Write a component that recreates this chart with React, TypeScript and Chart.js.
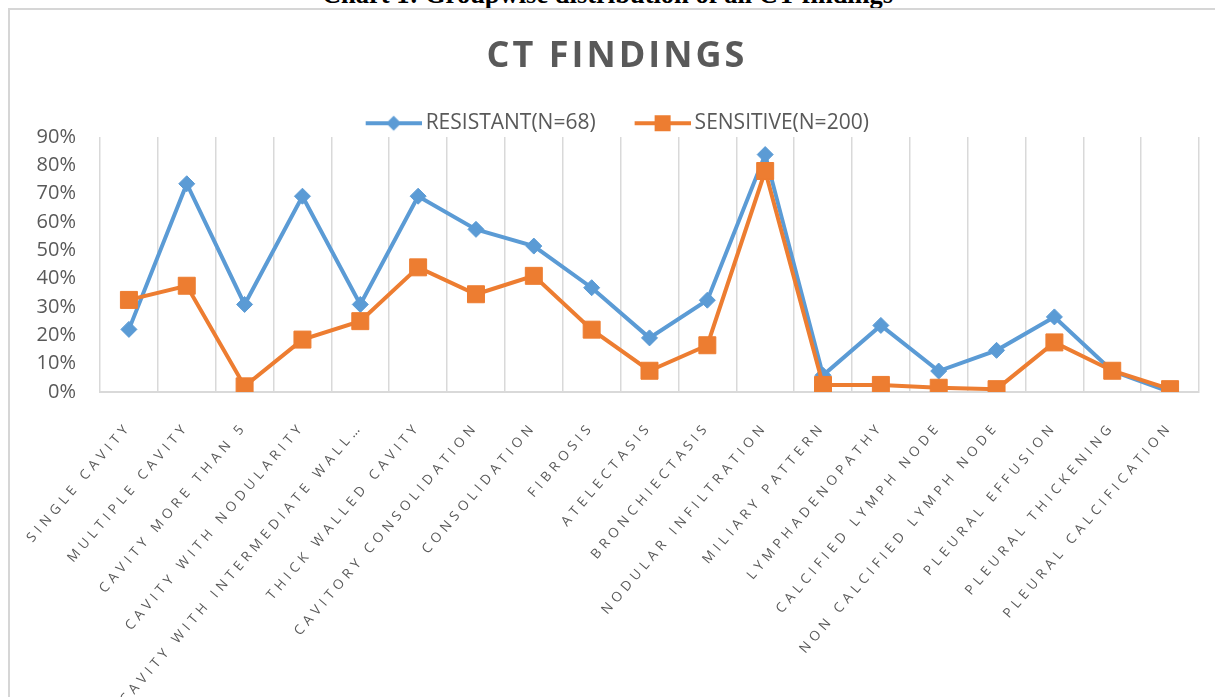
import React, { useEffect, useRef } from 'react';
import { Chart, registerables } from 'chart.js';

Chart.register(...registerables);

const CAPTION = 'Chart 1: Groupwise distribution of all CT findings';
const TITLE = 'CT FINDINGS';

const CATEGORIES = [
  'SINGLE CAVITY',
  'MULTIPLE CAVITY',
  'CAVITY MORE THAN 5',
  'CAVITY WITH NODULARITY',
  'CAVITY WITH INTERMEDIATE WALL…',
  'THICK WALLED CAVITY',
  'CAVITORY CONSOLIDATION',
  'CONSOLIDATION',
  'FIBROSIS',
  'ATELECTASIS',
  'BRONCHIECTASIS',
  'NODULAR INFILTRATION',
  'MILIARY PATTERN',
  'LYMPHADENOPATHY',
  'CALCIFIED LYMPH NODE',
  'NON CALCIFIED LYMPH NODE',
  'PLEURAL EFFUSION',
  'PLEURAL THICKENING',
  'PLEURAL CALCIFICATION',
];

const RESISTANT_LABEL = 'RESISTANT(N=68)';
const SENSITIVE_LABEL = 'SENSITIVE(N=200)';

const RESISTANT = [22.1, 73.5, 30.9, 69.1, 30.9, 69.1, 57.4, 51.5, 36.8, 19.1, 32.4, 83.8, 5.9, 23.5, 7.4, 14.7, 26.5, 7.4, 0];
const SENSITIVE = [32.5, 37.5, 2, 18.5, 25, 44, 34.5, 41, 22, 7.5, 16.5, 78, 2.5, 2.5, 1.5, 1, 17.5, 7.5, 1];

const Y_MIN = 0;
const Y_MAX = 90;
const Y_STEP = 10;

const BLUE = '#5B9BD5';
const ORANGE = '#ED7D31';
const TEXT = '#595959';
const GRID = '#d9d9d9';
const FONT = "'Open Sans', sans-serif";

const CANVAS_W = 1220;
const CANVAS_H = 687;

function makeIcon(color: string, kind: 'diamond' | 'square') {
  const c = document.createElement('canvas');
  c.width = 63;
  c.height = 22;
  const g = c.getContext('2d')!;
  g.strokeStyle = color;
  g.lineWidth = 4;
  g.lineCap = 'butt';
  g.beginPath();
  g.moveTo(7, 11);
  g.lineTo(63, 11);
  g.stroke();
  g.fillStyle = color;
  const cx = 35;
  if (kind === 'diamond') {
    g.beginPath();
    g.moveTo(cx, 3.5);
    g.lineTo(cx + 7.5, 11);
    g.lineTo(cx, 18.5);
    g.lineTo(cx - 7.5, 11);
    g.closePath();
    g.fill();
  } else {
    g.fillRect(cx - 8, 3, 16, 16);
  }
  return c;
}

const spacingPlugin = {
  id: 'letterSpacingPlugin',
  beforeDraw(chart: any) {
    const xs = chart.scales.x;
    if (xs && !xs.__spaced) {
      const orig = xs.drawLabels;
      xs.drawLabels = function (area: any) {
        const c = this.ctx;
        c.save();
        c.letterSpacing = '4.6px';
        orig.call(this, area);
        c.restore();
      };
      xs.__spaced = true;
    }
    const tb = chart.titleBlock;
    if (tb && !tb.__spaced) {
      const origT = tb.draw;
      tb.draw = function (...args: any[]) {
        const c = this.ctx;
        c.save();
        c.letterSpacing = '3px';
        origT.apply(this, args);
        c.restore();
      };
      tb.__spaced = true;
    }
  },
};

export default function App() {
  const ref = useRef<HTMLCanvasElement>(null);

  useEffect(() => {
    const canvas = ref.current!;
    const icons = [makeIcon(BLUE, 'diamond'), makeIcon(ORANGE, 'square')];
    const chart = new Chart(canvas, {
      type: 'line',
      data: {
        labels: CATEGORIES,
        datasets: [
          {
            label: RESISTANT_LABEL,
            data: RESISTANT,
            borderColor: BLUE,
            backgroundColor: BLUE,
            borderWidth: 4,
            pointStyle: 'rectRot',
            pointRadius: 8,
            pointHoverRadius: 8,
            pointBorderWidth: 1,
            pointBackgroundColor: BLUE,
            pointBorderColor: BLUE,
            tension: 0,
            fill: false,
            order: 2,
            yAxisID: 'y',
          },
          {
            label: SENSITIVE_LABEL,
            data: SENSITIVE,
            borderColor: ORANGE,
            backgroundColor: ORANGE,
            borderWidth: 4,
            pointStyle: 'rect',
            pointRadius: 12,
            pointHoverRadius: 12,
            pointBorderWidth: 1,
            pointBackgroundColor: ORANGE,
            pointBorderColor: ORANGE,
            tension: 0,
            fill: false,
            order: 1,
            yAxisID: 'y',
          },
        ],
      },
      options: {
        responsive: false,
        animation: false,
        devicePixelRatio: 1,
        layout: { padding: { left: 0, right: 6, top: 0, bottom: 0 } },
        plugins: {
          title: {
            display: true,
            text: TITLE,
            color: TEXT,
            font: { family: FONT, size: 36, weight: 'bold', lineHeight: 0.95 },
            padding: { top: 30, bottom: 0 },
          },
          legend: {
            display: true,
            position: 'top',
            maxHeight: 62.8,
            labels: {
              usePointStyle: true,
              pointStyleWidth: 50,
              padding: 38.5,
              color: TEXT,
              font: { family: FONT, size: 21 },
              generateLabels: (ch: any) =>
                ch.data.datasets.map((ds: any, i: number) => ({
                  text: ds.label,
                  fillStyle: ds.borderColor,
                  strokeStyle: ds.borderColor,
                  lineWidth: 0,
                  pointStyle: icons[i],
                  hidden: false,
                  datasetIndex: i,
                  fontColor: TEXT,
                })),
            },
          },
          tooltip: { enabled: false },
        },
        scales: {
          x: {
            type: 'category',
            offset: true,
            grid: { display: true, offset: true, color: GRID, lineWidth: 1.5, drawTicks: false },
            border: { display: true, color: GRID, width: 2 },
            ticks: {
              autoSkip: false,
              minRotation: 49.5,
              maxRotation: 49.5,
              padding: 27,
              color: TEXT,
              font: { family: FONT, size: 13.5 },
            },
            afterFit: (scale: any) => {
              scale.height = 305;
            },
          },
          y: {
            min: Y_MIN,
            max: Y_MAX,
            grid: { display: false, drawTicks: false },
            border: { display: false },
            ticks: {
              stepSize: Y_STEP,
              padding: 24,
              color: TEXT,
              font: { family: FONT, size: 20 },
              callback: (v: any) => `${v}%`,
            },
            afterFit: (scale: any) => {
              scale.width = 90;
            },
          },
          spacer: {
            type: 'linear',
            position: 'right',
            display: true,
            grid: { display: false, drawTicks: false },
            border: { display: false },
            ticks: { display: false },
            afterFit: (scale: any) => {
              scale.width = 25;
            },
          },
        },
      },
      plugins: [spacingPlugin],
    } as any);
    return () => chart.destroy();
  }, []);

  return (
    <div style={{ position: 'fixed', left: 0, top: 0, width: 1215, height: 697, overflow: 'hidden', background: '#fff' }}>
      <div
        style={{
          position: 'absolute',
          left: 0,
          top: -21,
          width: 1215,
          textAlign: 'center',
          fontFamily: "'Liberation Serif', 'Times New Roman', serif",
          fontWeight: 'bold',
          fontSize: 26.5,
          lineHeight: '30px',
          color: '#000',
          whiteSpace: 'nowrap',
        }}
      >
        {CAPTION}
      </div>
      <div
        style={{
          position: 'absolute',
          left: 8,
          top: 8,
          width: 1207,
          height: 689,
          boxSizing: 'border-box',
          borderLeft: '2px solid #d6d6d6',
          borderTop: '2px solid #d6d6d6',
          background: '#fff',
        }}
      >
        <canvas ref={ref} width={CANVAS_W} height={CANVAS_H} style={{ display: 'block', width: CANVAS_W, height: CANVAS_H }} />
      </div>
    </div>
  );
}
